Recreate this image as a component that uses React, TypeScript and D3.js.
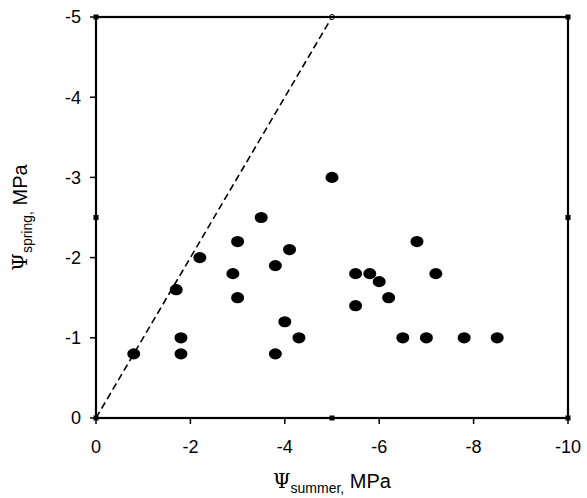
import * as d3 from "d3";

const summerPsi = [
  -0.8, -1.7, -1.8, -1.8, -2.2, -2.9, -3.0, -3.0, -3.5, -3.8, -3.8, -4.0, -4.1,
  -4.3, -5.0, -5.5, -5.5, -5.8, -6.0, -6.2, -6.5, -6.8, -7.0, -7.2, -7.8, -8.5,
];
const springPsi = [
  -0.8, -1.6, -1.0, -0.8, -2.0, -1.8, -2.2, -1.5, -2.5, -1.9, -0.8, -1.2, -2.1,
  -1.0, -3.0, -1.8, -1.4, -1.8, -1.7, -1.5, -1.0, -2.2, -1.0, -1.8, -1.0, -1.0,
];
const xTicks = [0, -2, -4, -6, -8, -10];
const yTicks = [0, -1, -2, -3, -4, -5];
const oneToOne = [0, -5];

const W = 587;
const H = 498;
const FONT = "'Liberation Sans', Arial, sans-serif";

export default function App() {
  const x = d3.scaleLinear().domain([0, -10]).range([96, 568]);
  const y = d3.scaleLinear().domain([0, -5]).range([418, 17]);

  const line = d3
    .line<number>()
    .x((d) => x(d))
    .y((d) => y(d));

  const x0 = x(0), x1 = x(-10), y0 = y(0), y1 = y(-5);
  // little corner / midpoint markers left by the plotting software
  const squares: [number, number][] = [
    [x0, y1], [x1, y1], [x1, y0], [x0, y0],
    [x0, y(-2.5)], [x1, y(-2.5)], [x(-5), y0],
  ];

  const pts = summerPsi.map((s, i) => ({ s, p: springPsi[i] }));

  return (
    <div style={{ position: "absolute", left: 0, top: 0 }}>
      <svg width={W} height={H} style={{ display: "block", background: "#fff" }}>
        {/* 1:1 line */}
        <path
          d={line(oneToOne) || ""}
          fill="none"
          stroke="#000"
          strokeWidth={1.6}
          strokeDasharray="7,4"
        />
        <circle cx={x(-5)} cy={y(-5)} r={2.5} fill="#fff" stroke="#000" strokeWidth={1} />

        {/* frame */}
        <rect
          x={x0}
          y={y1}
          width={x1 - x0}
          height={y0 - y1}
          fill="none"
          stroke="#000"
          strokeWidth={2.2}
        />
        {squares.map(([cx, cy], i) => (
          <rect key={i} x={cx - 2.5} y={cy - 2.5} width={5} height={5} fill="#000" />
        ))}

        {/* x ticks */}
        {xTicks.map((t) => (
          <g key={"x" + t}>
            <line x1={x(t)} x2={x(t)} y1={y0} y2={y0 + 6} stroke="#000" strokeWidth={1.5} />
            <text
              x={x(t)}
              y={453}
              textAnchor="middle"
              fontFamily={FONT}
              fontSize={18}
              fill="#000"
            >
              {t}
            </text>
          </g>
        ))}

        {/* y ticks */}
        {yTicks.map((t) => (
          <g key={"y" + t}>
            <line x1={x0 - 6} x2={x0} y1={y(t)} y2={y(t)} stroke="#000" strokeWidth={1.5} />
            <text
              x={81}
              y={y(t)}
              dy="0.36em"
              textAnchor="end"
              fontFamily={FONT}
              fontSize={18}
              fill="#000"
            >
              {t}
            </text>
          </g>
        ))}

        {/* points */}
        {pts.map((d, i) => (
          <ellipse key={i} cx={x(d.s)} cy={y(d.p)} rx={6.5} ry={5.6} fill="#000" />
        ))}

        {/* axis titles */}
        <text
          x={(x0 + x1) / 2}
          y={488}
          textAnchor="middle"
          fontFamily={FONT}
          fontSize={20}
          fill="#000"
        >
          <tspan fontFamily="'DejaVu Serif', serif">Ψ</tspan>
          <tspan fontSize={14} dy={5}>summer,</tspan>
          <tspan dy={-5}> MPa</tspan>
        </text>
        <text
          transform={`translate(27,${(y0 + y1) / 2}) rotate(-90)`}
          textAnchor="middle"
          fontFamily={FONT}
          fontSize={20}
          fill="#000"
        >
          <tspan fontFamily="'DejaVu Serif', serif">Ψ</tspan>
          <tspan fontSize={14} dy={5}>spring,</tspan>
          <tspan dy={-5}> MPa</tspan>
        </text>
      </svg>
    </div>
  );
}
